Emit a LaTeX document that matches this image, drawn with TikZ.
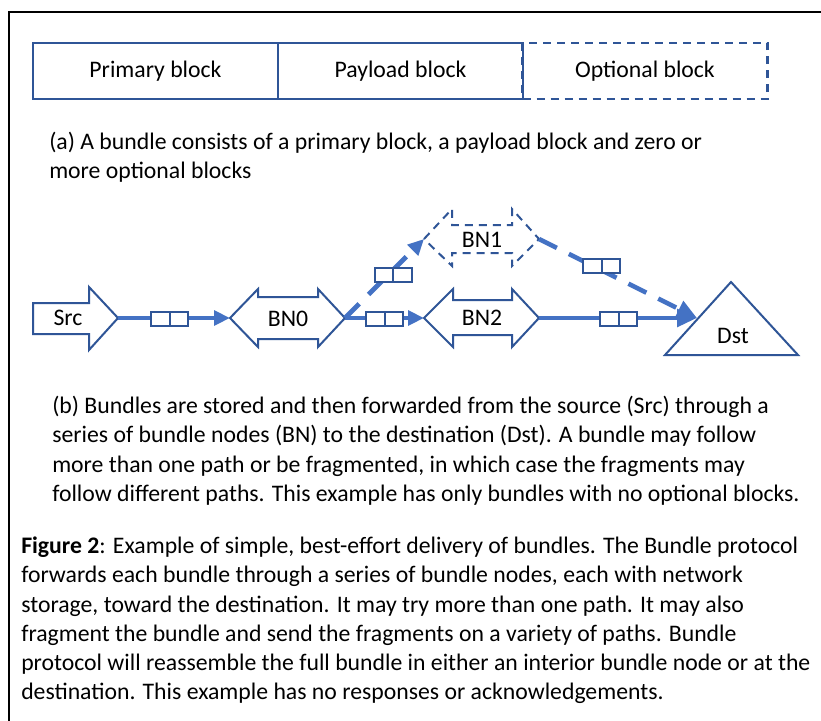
\documentclass[tikz,border=0pt]{standalone}
\usepackage{fontspec}
\setmainfont{Carlito}
\usetikzlibrary{arrows.meta}
\definecolor{conn}{HTML}{4472C4}
\definecolor{edge}{HTML}{2F5597}
\begin{document}
\begin{tikzpicture}[x=0.75pt,y=-0.75pt,
  txt/.style={anchor=base west,inner sep=0,font=\fontsize{17.8}{21}\selectfont},
  lbl/.style={anchor=base,inner sep=0,font=\fontsize{17.8}{21}\selectfont},
  blk/.style={draw=edge,line width=1.6pt,minimum width=183.75pt,minimum height=42pt,inner sep=0,font=\fontsize{17.8}{21}\selectfont},
  shp/.style={draw=edge,line width=1.5pt,line join=miter},
  dshp/.style={shp,dash pattern=on 6pt off 4.5pt},
  packet/.style={draw=edge,fill=white,line width=1.5pt,minimum width=27.75pt,minimum height=10.5pt,inner sep=0,
    path picture={\draw[edge,line width=1.5pt] (path picture bounding box.north) -- (path picture bounding box.south);}},
  link/.style={conn,line width=3.5pt,-{Triangle[length=12pt,width=11pt]}},
  biglink/.style={conn,line width=3.5pt,-{Triangle[length=15pt,width=13pt]}},
  longdash/.style={dash pattern=on 15pt off 10pt},
]
\useasboundingbox (0,0) rectangle (821,721);
\fill[white] (0,0) rectangle (821,721);
% frame
\draw[line width=2.2pt] (9,12) rectangle (840,740);

% top blocks
\node[blk,dash pattern=on 6pt off 4.5pt] (opt) at (645,71) {Optional block};
\node[blk] (pay) at (400.5,71) {Payload block};
\node[blk] (prim) at (155.5,71) {Primary block};

\node[txt] (capa1) at (49,149) {(a) A bundle consists of a primary block, a payload block and zero or};
\node[txt] (capa2) at (49,178) {more optional blocks};

% shapes
\draw[shp] (33,303) -- (89,303) -- (89,287) -- (118,318) -- (89,350) -- (89,334) -- (33,334) -- cycle;
\draw[shp] (230,318) -- (258,289) -- (258,297) -- (318,297) -- (318,289) -- (345,318) -- (318,347) -- (318,339) -- (258,339) -- (258,347) -- cycle;
\draw[shp] (424,318) -- (453,289) -- (453,300) -- (512,300) -- (512,289) -- (539,318) -- (512,347) -- (512,335) -- (453,335) -- (453,347) -- cycle;
\draw[dshp] (424,239) -- (452,209) -- (452,225) -- (512,225) -- (512,209) -- (539,239) -- (512,266) -- (512,253) -- (452,253) -- (452,266) -- cycle;
\draw[shp] (665,355) -- (731,282) -- (798,355) -- cycle;

\node[lbl] (src) at (68,325.5) {Src};
\node[lbl] (bn0) at (288,326) {BN0};
\node[lbl] (bn1) at (482,247) {BN1};
\node[lbl] (bn2) at (482,325) {BN2};
\node[lbl] (dst) at (733,343) {Dst};

\coordinate (srctip) at (118,318);
\coordinate (bn0l) at (230,318);
\coordinate (bn0r) at (345,318);
\coordinate (bn1l) at (424,239);
\coordinate (bn1r) at (539,239);
\coordinate (bn2l) at (424,318);
\coordinate (bn2r) at (539,318);
\coordinate (dstin) at (697,318);

% links
\draw[link] (srctip) -- (bn0l);
\draw[link] (bn0r) -- (bn2l);
\draw[biglink] (bn2r) -- (dstin);
\draw[link,longdash] (bn0r) -- (bn1l);
\draw[biglink,longdash] (bn1r) -- (dstin);

% packets
\node[packet] (p1) at (169.5,318.5) {};
\node[packet] (p2) at (384.5,318.5) {};
\node[packet] (p3) at (618.5,318.5) {};
\node[packet] (p4) at (393,275) {};
\node[packet] (p5) at (601.5,265.5) {};

% caption b
\node[txt] (capb1) at (52,413) {(b) Bundles are stored and then forwarded from the source (Src) through a};
\node[txt] (capb2) at (52,442.5) {series of bundle nodes (BN) to the destination (Dst). A bundle may follow};
\node[txt] (capb3) at (52,472) {more than one path or be fragmented, in which case the fragments may};
\node[txt] (capb4) at (52,501.5) {follow different paths. This example has only bundles with no optional blocks.};

% figure caption
\node[txt] (fig1) at (21,553) {\textbf{Figure 2}: Example of simple, best-effort delivery of bundles. The Bundle protocol};
\node[txt] (fig2) at (21,582) {forwards each bundle through a series of bundle nodes, each with network};
\node[txt] (fig3) at (21,612) {storage, toward the destination. It may try more than one path. It may also};
\node[txt] (fig4) at (21,641) {fragment the bundle and send the fragments on a variety of paths. Bundle};
\node[txt] (fig5) at (21,670) {protocol will reassemble the full bundle in either an interior bundle node or at the};
\node[txt] (fig6) at (21,699) {destination. This example has no responses or acknowledgements.};
\end{tikzpicture}
\end{document}
